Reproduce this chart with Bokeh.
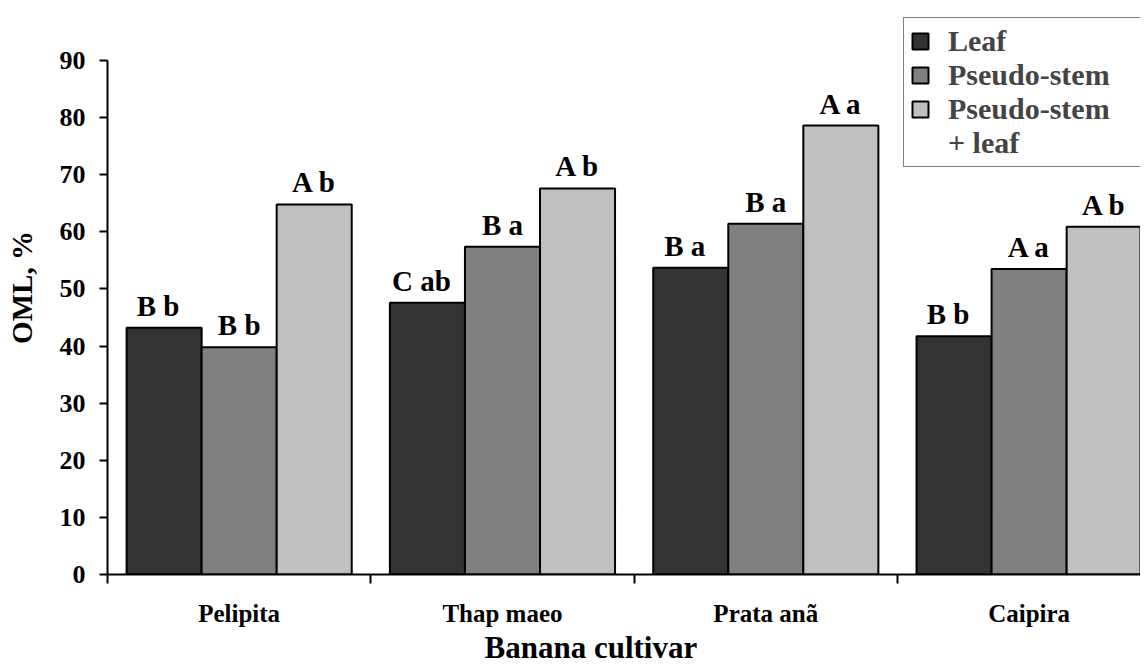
import numpy as np
from bokeh.plotting import figure
from bokeh.models import (Range1d, FixedTicker, ColumnDataSource, Legend,
                          LegendItem, Title)
from bokeh.core.properties import value
from bokeh.embed import file_html
from bokeh.resources import INLINE

# ---------------- data ----------------
cultivars = ["Pelipita", "Thap maeo", "Prata anã", "Caipira"]
series_names = ["Leaf", "Pseudo-stem", "Pseudo-stem + leaf"]
leaf = [43.2, 47.6, 53.7, 41.7]
pseudo_stem = [39.8, 57.4, 61.4, 53.5]
pseudo_stem_leaf = [64.8, 67.6, 78.6, 60.9]
leaf_letters = ["B b", "C ab", "B a", "B b"]
pseudo_stem_letters = ["B b", "B a", "B a", "A a"]
pseudo_stem_leaf_letters = ["A b", "A b", "A a", "A b"]
y_ticks = [0, 10, 20, 30, 40, 50, 60, 70, 80, 90]

values = [leaf, pseudo_stem, pseudo_stem_leaf]
letters = [leaf_letters, pseudo_stem_letters, pseudo_stem_leaf_letters]
colors = ["#333333", "#808080", "#c0c0c0"]

FONT = "Liberation Serif"
bar_w = 0.285
offsets = [-bar_w, 0.0, bar_w]
centers = np.arange(len(cultivars)) + 0.5

p = figure(width=1140, height=664, output_backend="svg", toolbar_location=None,
           title=None, x_range=Range1d(0, 3.923), y_range=Range1d(0, 100.5),
           min_border_left=107, min_border_right=0, min_border_top=0,
           min_border_bottom=90)
p.outline_line_color = None
p.xgrid.visible = False
p.ygrid.visible = False
p.background_fill_color = "white"
p.border_fill_color = "white"

renderers = []
for k in range(3):
    src = ColumnDataSource(dict(x=centers + offsets[k], top=values[k],
                                lab=letters[k]))
    r = p.vbar(x="x", top="top", bottom=0, width=bar_w, source=src,
               fill_color=colors[k], line_color="black", line_width=2)
    renderers.append(r)
    p.text(x="x", y="top", text="lab", source=src, text_align="center",
           text_baseline="alphabetic", y_offset=-22,
           x_offset=(-6 if k == 0 else 0),
           text_font=value(FONT), text_font_style="bold",
           text_font_size="29px", text_color="black")

# invisible helper renderer for the second line of the third legend entry
dummy = p.vbar(x=[], top=[], width=bar_w, fill_alpha=0, line_alpha=0)

legend = Legend(items=[
    LegendItem(label=series_names[0], renderers=[renderers[0]]),
    LegendItem(label="Pseudo-stem", renderers=[renderers[1]]),
    LegendItem(label="Pseudo-stem", renderers=[renderers[2]]),
    LegendItem(label="+ leaf", renderers=[dummy]),
], location=(796, 407), label_text_font=FONT, label_text_font_style="bold",
    label_text_font_size="30px", glyph_width=20, glyph_height=20,
    label_standoff=18, label_height=33, label_width=220, spacing=0,
    padding=6, margin=0, border_line_color="black", border_line_width=1.5,
    background_fill_color="white", background_fill_alpha=1.0)
p.add_layout(legend)

# y axis
ya = p.yaxis[0]
ya.ticker = FixedTicker(ticks=y_ticks)
ya.bounds = (0, 90)
ya.axis_line_width = 2
ya.major_tick_line_width = 2
ya.major_tick_in = 0
ya.major_tick_out = 8
ya.minor_tick_line_color = None
ya.major_label_standoff = 14
ya.major_label_text_font = FONT
ya.major_label_text_font_style = "bold"
ya.major_label_text_font_size = "26px"
ya.major_label_text_color = "black"
ya.axis_label = "OML, %"
ya.axis_label_text_font = FONT
ya.axis_label_text_font_style = "bold"
ya.axis_label_text_font_size = "29px"
ya.axis_label_text_color = "black"
ya.axis_label_standoff = 19

# x axis
xa = p.xaxis[0]
xa.ticker = FixedTicker(ticks=list(centers),
                        minor_ticks=list(range(len(cultivars) + 1)))
xa.major_label_overrides = {float(c): name for c, name in zip(centers, cultivars)}
xa.axis_line_width = 2
xa.major_tick_in = 0
xa.major_tick_out = 0
xa.major_tick_line_color = None
xa.minor_tick_in = 0
xa.minor_tick_out = 9
xa.minor_tick_line_width = 2
xa.minor_tick_line_color = "black"
xa.major_label_standoff = 16
xa.major_label_text_font = FONT
xa.major_label_text_font_style = "bold"
xa.major_label_text_font_size = "25px"
xa.major_label_text_color = "black"

# x-axis title
p.add_layout(Title(text="Banana cultivar", align="left", offset=377,
                   text_font=FONT, text_font_style="bold",
                   text_font_size="31px", text_color="black",
                   standoff=-4), "below")

open("out.html", "w").write(file_html(p, INLINE))
